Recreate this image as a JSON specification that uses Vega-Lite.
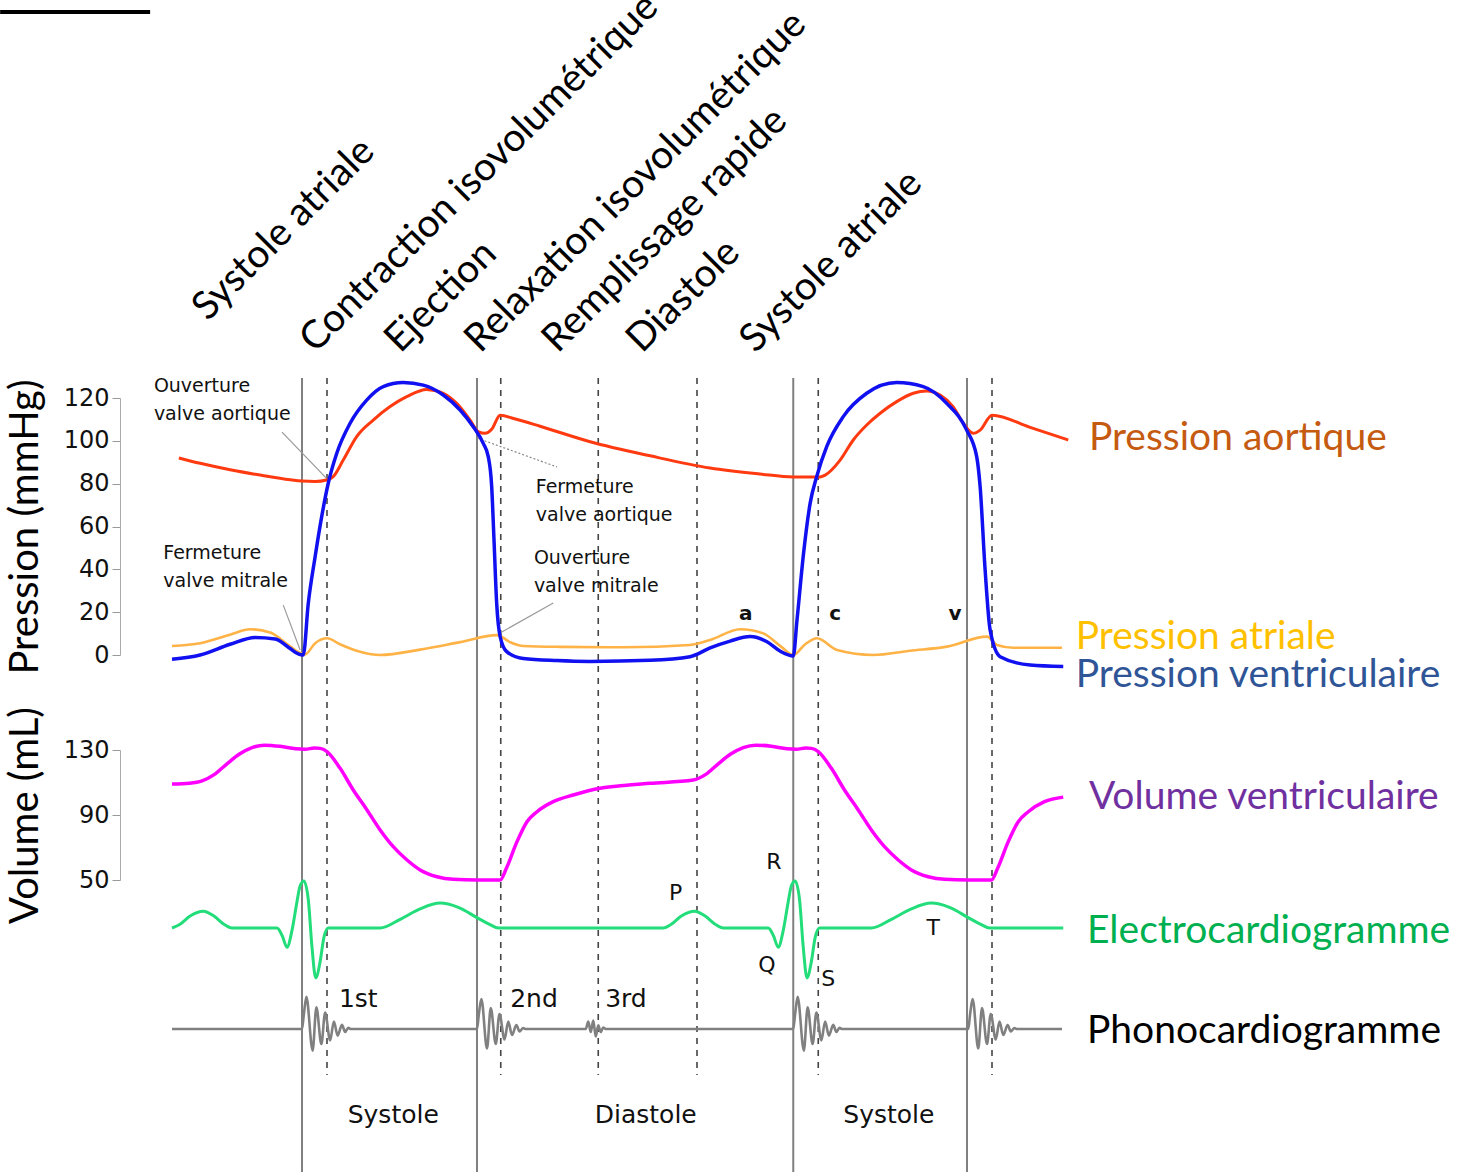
{
  "$schema": "https://vega.github.io/schema/vega-lite/v6.json",
  "width": 1341,
  "height": 1176,
  "padding": {"left": 120, "top": 0, "right": 0, "bottom": 0},
  "autosize": {"type": "none"},
  "background": "white",
  "config": {"view": {"stroke": null}, "axis": {"grid": false}},
  "datasets": {
    "aortic": [
      {"t":-197,"p":92},{"t":-163,"p":89.5},{"t":-115,"p":86.5},{"t":-67,"p":84},{"t":-19,"p":81.8},{"t":0,"p":81.2},{"t":21,"p":81},{"t":39.5,"p":81.7},{"t":50,"p":83.3},{"t":66,"p":91},{"t":87.5,"p":102},{"t":114,"p":109.7},{"t":141,"p":116},{"t":167.5,"p":120.6},{"t":199.5,"p":124},{"t":226,"p":122.2},{"t":247.5,"p":117.5},{"t":269,"p":109.7},{"t":282,"p":104.3},{"t":293,"p":103.5},{"t":303.5,"p":105.4},{"t":317,"p":112},{"t":340,"p":110.3},{"t":381,"p":106.8},{"t":461,"p":99.6},{"t":557,"p":93},{"t":653,"p":87.3},{"t":733,"p":84.5},{"t":786,"p":83.1},{"t":829,"p":83.1},{"t":837,"p":84},{"t":861,"p":91},{"t":882,"p":100.4},{"t":903.5,"p":107.4},{"t":925,"p":112.9},{"t":951.5,"p":118.3},{"t":978,"p":122.2},{"t":999.5,"p":123.3},{"t":1021,"p":121.4},{"t":1042,"p":115.9},{"t":1058,"p":108.2},{"t":1074,"p":103.5},{"t":1085,"p":105},{"t":1104,"p":112},{"t":1165,"p":106.3},{"t":1226,"p":100.4}
    ],
    "atrial": [
      {"t":-208,"p":4.2},{"t":-163,"p":5.5},{"t":-115,"p":9.5},{"t":-83,"p":12},{"t":-51,"p":10.5},{"t":-19,"p":4},{"t":-3,"p":0.9},{"t":5,"p":0.3},{"t":21,"p":5.5},{"t":40,"p":7.8},{"t":61,"p":5},{"t":93,"p":1.5},{"t":125,"p":0},{"t":189,"p":2.5},{"t":253,"p":6},{"t":312,"p":9.3},{"t":333,"p":6},{"t":354,"p":4.2},{"t":413,"p":3.8},{"t":514,"p":3.6},{"t":621,"p":4.7},{"t":653,"p":7},{"t":701,"p":12},{"t":738,"p":10.1},{"t":766,"p":4},{"t":786,"p":0},{"t":805,"p":5},{"t":824,"p":7.8},{"t":856,"p":2.3},{"t":914,"p":0},{"t":973,"p":2},{"t":1032,"p":3.9},{"t":1096,"p":8.6},{"t":1112,"p":4.7},{"t":1138,"p":3.4},{"t":1216,"p":3.4}
    ],
    "ventricular": [
      {"t":-208,"p":-2},{"t":-163,"p":0},{"t":-115,"p":5},{"t":-75,"p":8.2},{"t":-43,"p":7.5},{"t":-19,"p":3},{"t":-6,"p":0.5},{"t":2,"p":0},{"t":10,"p":24},{"t":21,"p":45.9},{"t":31.5,"p":64.6},{"t":42,"p":80.2},{"t":55.5,"p":94.1},{"t":77,"p":108.2},{"t":103.5,"p":119},{"t":130,"p":125.3},{"t":162,"p":127.2},{"t":194,"p":126},{"t":226,"p":121.4},{"t":253,"p":114.4},{"t":274,"p":106.6},{"t":290,"p":98.8},{"t":298,"p":92.6},{"t":303.5,"p":78.6},{"t":307,"p":55.2},{"t":311.5,"p":24.1},{"t":317,"p":8.6},{"t":327.5,"p":1.6},{"t":354,"p":-1.6},{"t":407.5,"p":-2.6},{"t":461,"p":-3},{"t":557,"p":-2.5},{"t":621,"p":-0.8},{"t":653,"p":3.3},{"t":685,"p":6.5},{"t":717,"p":8.6},{"t":744,"p":6.2},{"t":766,"p":1.6},{"t":786,"p":-0.5},{"t":792,"p":16.3},{"t":802.5,"p":47.5},{"t":813,"p":70.8},{"t":823.5,"p":83.3},{"t":839.5,"p":97.3},{"t":866,"p":111.3},{"t":903.5,"p":122.2},{"t":951.5,"p":127.2},{"t":994,"p":125.3},{"t":1031.5,"p":117.5},{"t":1063.5,"p":105},{"t":1079.5,"p":92.6},{"t":1085,"p":78.6},{"t":1093,"p":39.7},{"t":1101,"p":11.7},{"t":1117,"p":-0.8},{"t":1165,"p":-4.7},{"t":1218,"p":-5.4}
    ],
    "volume": [
      {"t":-208,"v":109.1},{"t":-180,"v":109.6},{"t":-160,"v":111},{"t":-140,"v":115},{"t":-120,"v":121.5},{"t":-100,"v":127.5},{"t":-80,"v":131.5},{"t":-60,"v":133},{"t":-35,"v":132.3},{"t":-10,"v":130.8},{"t":5,"v":130.5},{"t":20,"v":131.2},{"t":29,"v":131},{"t":40,"v":129},{"t":61,"v":118.7},{"t":82,"v":105.4},{"t":104,"v":93.1},{"t":125,"v":80.8},{"t":146,"v":70.5},{"t":168,"v":62.3},{"t":189,"v":56.2},{"t":216,"v":52},{"t":242,"v":50.4},{"t":280,"v":50},{"t":317,"v":50},{"t":327,"v":57.2},{"t":344,"v":73.6},{"t":360,"v":85.9},{"t":376,"v":92},{"t":402,"v":98.2},{"t":434,"v":102.3},{"t":477,"v":106.5},{"t":509,"v":108},{"t":557,"v":109.5},{"t":626,"v":111.5},{"t":646,"v":115},{"t":666,"v":121.5},{"t":686,"v":127.5},{"t":706,"v":131.5},{"t":726,"v":133},{"t":751,"v":132.3},{"t":776,"v":130.8},{"t":791,"v":130.5},{"t":806,"v":131.2},{"t":815,"v":131},{"t":826,"v":129},{"t":847,"v":118.7},{"t":868,"v":105.4},{"t":890,"v":93.1},{"t":911,"v":80.8},{"t":932,"v":70.5},{"t":954,"v":62.3},{"t":975,"v":56.2},{"t":1002,"v":52},{"t":1028,"v":50.4},{"t":1066,"v":50},{"t":1103,"v":50},{"t":1113,"v":57.2},{"t":1130,"v":73.6},{"t":1146,"v":85.9},{"t":1162,"v":92},{"t":1188,"v":98.2},{"t":1218,"v":101}
    ],
    "ecg": [
      {"t":-208,"e":0},{"t":-195,"e":0.08},{"t":-179,"e":0.25},{"t":-158,"e":0.35},{"t":-141,"e":0.25},{"t":-125,"e":0.08},{"t":-112,"e":0},{"t":-40,"e":0},{"t":-32,"e":-0.15},{"t":-24,"e":-0.4},{"t":-16,"e":-0.05},{"t":-8,"e":0.55},{"t":-3,"e":0.88},{"t":3,"e":0.98},{"t":10,"e":0.6},{"t":16,"e":-0.4},{"t":22,"e":-1.04},{"t":29,"e":-0.7},{"t":35,"e":-0.2},{"t":42,"e":0},{"t":125,"e":0},{"t":157,"e":0.18},{"t":189,"e":0.4},{"t":221,"e":0.52},{"t":250,"e":0.43},{"t":282,"e":0.2},{"t":301,"e":0.07},{"t":314,"e":0},{"t":578,"e":0},{"t":591,"e":0.08},{"t":607,"e":0.25},{"t":628,"e":0.35},{"t":645,"e":0.25},{"t":661,"e":0.08},{"t":674,"e":0},{"t":746,"e":0},{"t":754,"e":-0.15},{"t":762,"e":-0.4},{"t":770,"e":-0.05},{"t":778,"e":0.55},{"t":783,"e":0.88},{"t":789,"e":0.98},{"t":796,"e":0.6},{"t":802,"e":-0.4},{"t":808,"e":-1.04},{"t":815,"e":-0.7},{"t":821,"e":-0.2},{"t":828,"e":0},{"t":911,"e":0},{"t":943,"e":0.18},{"t":975,"e":0.4},{"t":1007,"e":0.52},{"t":1036,"e":0.43},{"t":1068,"e":0.2},{"t":1087,"e":0.07},{"t":1100,"e":0},{"t":1218,"e":0}
    ],
    "phono": [
      {"t":-208,"s":0},{"t":0,"s":0},{"t":3,"s":0.5},{"t":7,"s":1.07},{"t":17,"s":-0.72},{"t":23,"s":0.72},{"t":31,"s":-0.5},{"t":37,"s":0.55},{"t":45,"s":-0.38},{"t":51,"s":0.25},{"t":57,"s":-0.22},{"t":64,"s":0.14},{"t":69,"s":-0.1},{"t":74,"s":0.04},{"t":78,"s":0},
      {"t":280,"s":0},{"t":283,"s":0.5},{"t":287,"s":1.0},{"t":296,"s":-0.65},{"t":302,"s":0.7},{"t":310,"s":-0.5},{"t":316,"s":0.5},{"t":324,"s":-0.35},{"t":330,"s":0.25},{"t":336,"s":-0.2},{"t":343,"s":0.13},{"t":348,"s":-0.08},{"t":354,"s":0.03},{"t":358,"s":0},
      {"t":454,"s":0},{"t":458,"s":0.25},{"t":462,"s":-0.1},{"t":466,"s":0.28},{"t":470,"s":-0.25},{"t":474,"s":0.12},{"t":478,"s":-0.1},{"t":482,"s":0.05},{"t":486,"s":0},
      {"t":786,"s":0},{"t":789,"s":0.5},{"t":793,"s":1.07},{"t":803,"s":-0.72},{"t":809,"s":0.72},{"t":817,"s":-0.5},{"t":823,"s":0.55},{"t":831,"s":-0.38},{"t":837,"s":0.25},{"t":843,"s":-0.22},{"t":850,"s":0.14},{"t":855,"s":-0.1},{"t":860,"s":0.04},{"t":864,"s":0},
      {"t":1066,"s":0},{"t":1069,"s":0.5},{"t":1073,"s":1.0},{"t":1082,"s":-0.65},{"t":1088,"s":0.7},{"t":1096,"s":-0.5},{"t":1102,"s":0.5},{"t":1110,"s":-0.35},{"t":1116,"s":0.25},{"t":1122,"s":-0.2},{"t":1129,"s":0.13},{"t":1134,"s":-0.08},{"t":1140,"s":0.03},{"t":1144,"s":0},{"t":1216,"s":0}
    ],
    "solid_events": [{"t":0},{"t":280},{"t":786},{"t":1064}],
    "dashed_events": [{"t":40},{"t":318},{"t":474},{"t":632},{"t":826},{"t":1104}],
    "pointers": [
      {"t":-32,"t2":40,"p":104.1,"p2":82.2},
      {"t":-30,"t2":-3,"p":23.3,"p2":2.3},
      {"t":402,"t2":317,"p":24.3,"p2":10.3}
    ],
    "pointers_dotted": [
      {"t":280,"t2":408,"p":101.3,"p2":87.8}
    ],
    "notes": [
      {"t":-237,"p":125.6,"label":"Ouverture"},
      {"t":-237,"p":112.5,"label":"valve aortique"},
      {"t":-222,"p":47.6,"label":"Fermeture"},
      {"t":-222,"p":34.6,"label":"valve mitrale"},
      {"t":374,"p":78.4,"label":"Fermeture"},
      {"t":374,"p":65.4,"label":"valve aortique"},
      {"t":371,"p":45.3,"label":"Ouverture"},
      {"t":371,"p":32.2,"label":"valve mitrale"}
    ],
    "waves": [
      {"t":710,"p":19.1,"label":"a"},
      {"t":853,"p":19.1,"label":"c"},
      {"t":1045,"p":19.1,"label":"v"}
    ],
    "phases": [
      {"t":-151,"p":155.5,"label":"Systole atriale"},
      {"t":21,"p":140.5,"label":"Contraction isovolumétrique"},
      {"t":157,"p":140.5,"label":"Ejection"},
      {"t":285,"p":140.5,"label":"Relaxation isovolumétrique"},
      {"t":409,"p":140.5,"label":"Remplissage rapide"},
      {"t":544,"p":140.5,"label":"Diastole"},
      {"t":725,"p":140.5,"label":"Systole atriale"}
    ],
    "pressure_names": [
      {"t":1259,"p":101.3,"label":"Pression aortique"},
      {"t":1238,"p":8.4,"label":"Pression atriale"},
      {"t":1238,"p":-9.3,"label":"Pression ventriculaire"}
    ],
    "corner": [{"t":-483,"t2":-243,"p":300.2}],
    "volume_name": [{"t":1259,"v":101.1,"label":"Volume ventriculaire"}],
    "ecg_letters": [
      {"t":598,"e":0.73,"label":"P"},
      {"t":755,"e":1.375,"label":"R"},
      {"t":744,"e":-0.77,"label":"Q"},
      {"t":842,"e":-1.06,"label":"S"},
      {"t":1010,"e":0,"label":"T"}
    ],
    "ecg_name": [{"t":1256,"e":-0.06,"label":"Electrocardiogramme"}],
    "sounds": [
      {"t":59,"s":1.0,"label":"1st"},
      {"t":333,"s":1.0,"label":"2nd"},
      {"t":485,"s":1.0,"label":"3rd"}
    ],
    "periods": [
      {"t":146,"s":-2.87,"label":"Systole"},
      {"t":550,"s":-2.87,"label":"Diastole"},
      {"t":939,"s":-2.87,"label":"Systole"}
    ],
    "phono_name": [{"t":1256,"s":-0.07,"label":"Phonocardiogramme"}]
  },
  "layer": [
    {
      "layer": [
        {
          "data": {"name": "solid_events"},
          "mark": {"type": "rule", "color": "#808080", "strokeWidth": 2},
          "encoding": {
            "x": {"field": "t", "type": "quantitative", "scale": {"domain": [-291.2, 1854.4], "nice": false, "zero": false}, "axis": null},
            "y": {"datum": 129.3, "type": "quantitative", "scale": {"domain": [0, 120], "range": [655, 398], "nice": false, "zero": false},
              "axis": {"orient": "left", "values": [0, 20, 40, 60, 80, 100, 120], "title": "Pression (mmHg)", "titleFont": "Lato", "titleFontSize": 40, "titleFontWeight": "normal", "titleColor": "#000", "titlePadding": 18, "labelFont": "DejaVu Sans", "labelFontSize": 24, "labelColor": "#111", "tickColor": "#999", "domainColor": "#aaa", "tickSize": 8, "labelPadding": 3, "grid": false}},
            "y2": {"datum": -241.4}
          }
        },
        {
          "data": {"name": "dashed_events"},
          "mark": {"type": "rule", "color": "#444", "strokeWidth": 1.6, "strokeDash": [6, 6]},
          "encoding": {
            "x": {"field": "t", "type": "quantitative"},
            "y": {"datum": 129.3, "type": "quantitative"},
            "y2": {"datum": -196.1}
          }
        },
        {
          "data": {"name": "pointers"},
          "mark": {"type": "rule", "color": "#999", "strokeWidth": 1.2},
          "encoding": {
            "x": {"field": "t", "type": "quantitative"},
            "x2": {"field": "t2"},
            "y": {"field": "p", "type": "quantitative"},
            "y2": {"field": "p2"}
          }
        },
        {
          "data": {"name": "pointers_dotted"},
          "mark": {"type": "rule", "color": "#888", "strokeWidth": 1.2, "strokeDash": [2, 2]},
          "encoding": {
            "x": {"field": "t", "type": "quantitative"},
            "x2": {"field": "t2"},
            "y": {"field": "p", "type": "quantitative"},
            "y2": {"field": "p2"}
          }
        },
        {
          "data": {"name": "corner"},
          "mark": {"type": "rule", "color": "#000", "strokeWidth": 4},
          "encoding": {
            "x": {"field": "t", "type": "quantitative"},
            "x2": {"field": "t2"},
            "y": {"field": "p", "type": "quantitative"}
          }
        },
        {
          "data": {"name": "aortic"},
          "mark": {"type": "line", "color": "#ff3a10", "strokeWidth": 3, "interpolate": "monotone"},
          "encoding": {"x": {"field": "t", "type": "quantitative"}, "y": {"field": "p", "type": "quantitative"}}
        },
        {
          "data": {"name": "atrial"},
          "mark": {"type": "line", "color": "#ffb347", "strokeWidth": 2.6, "interpolate": "monotone"},
          "encoding": {"x": {"field": "t", "type": "quantitative"}, "y": {"field": "p", "type": "quantitative"}}
        },
        {
          "data": {"name": "ventricular"},
          "mark": {"type": "line", "color": "#1010f0", "strokeWidth": 3.5, "interpolate": "monotone"},
          "encoding": {"x": {"field": "t", "type": "quantitative"}, "y": {"field": "p", "type": "quantitative"}}
        },
        {
          "data": {"name": "notes"},
          "mark": {"type": "text", "font": "DejaVu Sans", "fontSize": 19, "align": "left", "baseline": "middle", "color": "#111"},
          "encoding": {"x": {"field": "t", "type": "quantitative"}, "y": {"field": "p", "type": "quantitative"}, "text": {"field": "label"}}
        },
        {
          "data": {"name": "waves"},
          "mark": {"type": "text", "font": "DejaVu Sans", "fontSize": 20, "fontWeight": "bold", "align": "center", "baseline": "middle", "color": "#111"},
          "encoding": {"x": {"field": "t", "type": "quantitative"}, "y": {"field": "p", "type": "quantitative"}, "text": {"field": "label"}}
        },
        {
          "data": {"name": "phases"},
          "mark": {"type": "text", "font": "Lato", "fontSize": 39, "align": "left", "baseline": "alphabetic", "angle": -45, "color": "#000"},
          "encoding": {"x": {"field": "t", "type": "quantitative"}, "y": {"field": "p", "type": "quantitative"}, "text": {"field": "label"}}
        },
        {
          "data": {"name": "pressure_names"},
          "mark": {"type": "text", "font": "Lato", "fontSize": 39, "align": "left", "baseline": "middle"},
          "encoding": {
            "x": {"field": "t", "type": "quantitative"},
            "y": {"field": "p", "type": "quantitative"},
            "text": {"field": "label"},
            "color": {"field": "label", "type": "nominal", "scale": {"domain": ["Pression aortique", "Pression atriale", "Pression ventriculaire"], "range": ["#c55a11", "#ffc000", "#2f5597"]}, "legend": null}
          }
        }
      ]
    },
    {
      "layer": [
        {
          "data": {"name": "volume"},
          "mark": {"type": "line", "color": "#ff00ff", "strokeWidth": 3.5, "interpolate": "monotone"},
          "encoding": {
            "x": {"field": "t", "type": "quantitative"},
            "y": {"field": "v", "type": "quantitative", "scale": {"domain": [50, 130], "range": [880, 750], "nice": false, "zero": false},
              "axis": {"orient": "left", "values": [50, 90, 130], "title": "Volume (mL)", "titleFont": "Lato", "titleFontSize": 40, "titleFontWeight": "normal", "titleColor": "#000", "titlePadding": 18, "labelFont": "DejaVu Sans", "labelFontSize": 24, "labelColor": "#111", "tickColor": "#999", "domainColor": "#aaa", "tickSize": 8, "labelPadding": 3, "grid": false}}
          }
        },
        {
          "data": {"name": "volume_name"},
          "mark": {"type": "text", "font": "Lato", "fontSize": 39, "align": "left", "baseline": "middle", "color": "#7030a0"},
          "encoding": {"x": {"field": "t", "type": "quantitative"}, "y": {"field": "v", "type": "quantitative"}, "text": {"field": "label"}}
        }
      ]
    },
    {
      "layer": [
        {
          "data": {"name": "ecg"},
          "mark": {"type": "line", "color": "#22dd7a", "strokeWidth": 3, "interpolate": "monotone"},
          "encoding": {
            "x": {"field": "t", "type": "quantitative"},
            "y": {"field": "e", "type": "quantitative", "scale": {"domain": [0, 1], "range": [928, 880], "nice": false, "zero": false}, "axis": null}
          }
        },
        {
          "data": {"name": "ecg_letters"},
          "mark": {"type": "text", "font": "DejaVu Sans", "fontSize": 22, "align": "center", "baseline": "middle", "color": "#111"},
          "encoding": {"x": {"field": "t", "type": "quantitative"}, "y": {"field": "e", "type": "quantitative"}, "text": {"field": "label"}}
        },
        {
          "data": {"name": "ecg_name"},
          "mark": {"type": "text", "font": "Lato", "fontSize": 39, "align": "left", "baseline": "middle", "color": "#00b050"},
          "encoding": {"x": {"field": "t", "type": "quantitative"}, "y": {"field": "e", "type": "quantitative"}, "text": {"field": "label"}}
        }
      ]
    },
    {
      "layer": [
        {
          "data": {"name": "phono"},
          "mark": {"type": "line", "color": "#808080", "strokeWidth": 2.6, "interpolate": "monotone"},
          "encoding": {
            "x": {"field": "t", "type": "quantitative"},
            "y": {"field": "s", "type": "quantitative", "scale": {"domain": [0, 1], "range": [1029, 999], "nice": false, "zero": false}, "axis": null}
          }
        },
        {
          "data": {"name": "sounds"},
          "mark": {"type": "text", "font": "DejaVu Sans", "fontSize": 25, "align": "left", "baseline": "middle", "color": "#111"},
          "encoding": {"x": {"field": "t", "type": "quantitative"}, "y": {"field": "s", "type": "quantitative"}, "text": {"field": "label"}}
        },
        {
          "data": {"name": "periods"},
          "mark": {"type": "text", "font": "DejaVu Sans", "fontSize": 25, "align": "center", "baseline": "middle", "color": "#111"},
          "encoding": {"x": {"field": "t", "type": "quantitative"}, "y": {"field": "s", "type": "quantitative"}, "text": {"field": "label"}}
        },
        {
          "data": {"name": "phono_name"},
          "mark": {"type": "text", "font": "Lato", "fontSize": 39, "align": "left", "baseline": "middle", "color": "#000"},
          "encoding": {"x": {"field": "t", "type": "quantitative"}, "y": {"field": "s", "type": "quantitative"}, "text": {"field": "label"}}
        }
      ]
    }
  ],
  "resolve": {"scale": {"y": "independent"}, "axis": {"y": "independent"}}
}
